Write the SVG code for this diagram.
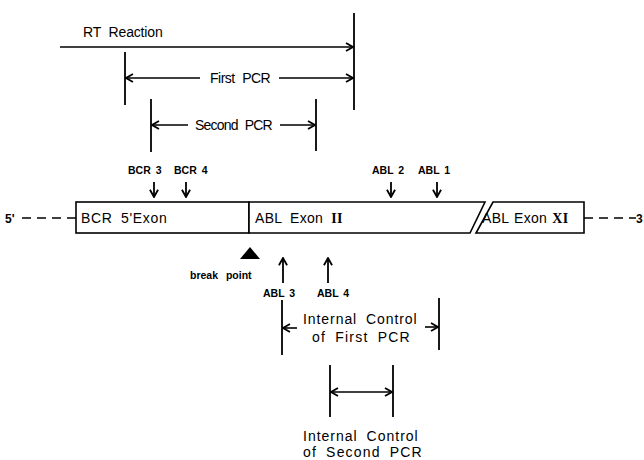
<svg xmlns="http://www.w3.org/2000/svg" width="644" height="460" viewBox="0 0 644 460">
<defs>
<marker id="ah" viewBox="0 0 10 10" refX="9" refY="5" markerWidth="10" markerHeight="10" markerUnits="userSpaceOnUse" orient="auto-start-reverse">
<path d="M2,1 L9,5 L2,9" fill="none" stroke="#000" stroke-width="1.8"/>
</marker>
<marker id="ph" viewBox="0 0 10 10" refX="9" refY="5" markerWidth="9" markerHeight="10" markerUnits="userSpaceOnUse" orient="auto">
<path d="M1,0.5 L9,5 L1,9.5" fill="none" stroke="#000" stroke-width="2"/>
</marker>
</defs>
<style>
text{font-family:"Liberation Sans",Arial,sans-serif;fill:#000}
.lbl{font-size:14px;letter-spacing:0.3px;word-spacing:4px}
.sm{font-size:10.5px;font-weight:bold;word-spacing:2px}
.rn{font-family:"Liberation Serif","Times New Roman",serif;font-weight:bold}
.tk{stroke:#000;stroke-width:1.8;fill:none}
.ar{stroke:#000;stroke-width:1.6;fill:none;marker-end:url(#ah)}
.da{stroke:#000;stroke-width:1.5;fill:none;marker-start:url(#ah);marker-end:url(#ah)}
.pr{stroke:#000;stroke-width:1.8;fill:none;marker-end:url(#ph)}
.dash{stroke:#000;stroke-width:1.6;stroke-dasharray:9,6;fill:none}
.box{stroke:#000;stroke-width:1.6;fill:#fff}
</style>

<g id="connectors">
<line class="ar" x1="60" y1="47" x2="353" y2="47"/>
<line class="tk" x1="354" y1="13" x2="354" y2="110"/>
<line class="tk" x1="125" y1="52" x2="125" y2="105"/>
<line class="ar" x1="200" y1="78" x2="126" y2="78"/>
<line class="ar" x1="279" y1="78" x2="353" y2="78"/>
<line class="tk" x1="151" y1="99" x2="151" y2="152"/>
<line class="tk" x1="316" y1="99" x2="316" y2="151"/>
<line class="ar" x1="188" y1="125" x2="152" y2="125"/>
<line class="ar" x1="280" y1="125" x2="315" y2="125"/>
<line class="pr" x1="154" y1="182" x2="154" y2="197"/>
<line class="pr" x1="186" y1="182" x2="186" y2="197"/>
<line class="pr" x1="391" y1="182" x2="391" y2="197"/>
<line class="pr" x1="437" y1="182" x2="437" y2="197"/>
<line class="pr" x1="283" y1="283" x2="283" y2="258"/>
<line class="pr" x1="328" y1="283" x2="328" y2="258"/>
<line class="dash" x1="22" y1="218" x2="76" y2="218"/>
<line class="dash" x1="584" y1="218" x2="636" y2="218"/>
<line class="tk" x1="282" y1="300" x2="282" y2="355"/>
<line class="tk" x1="439" y1="298" x2="439" y2="350"/>
<line class="ar" x1="297" y1="328" x2="283" y2="328"/>
<line class="ar" x1="425" y1="327" x2="438" y2="327"/>
<line class="tk" x1="330" y1="365" x2="330" y2="417"/>
<line class="tk" x1="393" y1="365" x2="393" y2="417"/>
<line class="da" x1="331" y1="392" x2="392" y2="392"/>
</g>

<g id="bcr-exon">
<rect class="box" x="76" y="202" width="173" height="31"/>
<text class="lbl" x="81" y="223" textLength="86" lengthAdjust="spacing">BCR 5'Exon</text>
</g>
<g id="abl-exon-ii">
<path class="box" d="M249,202 L485,202 L470,233 L249,233 Z"/>
<text class="lbl" x="255" y="223">ABL Exon <tspan class="rn">II</tspan></text>
</g>
<g id="abl-exon-xi">
<path class="box" d="M493,202 L584,202 L584,233 L476,233 Z"/>
<text class="lbl" x="482" y="223" style="word-spacing:1px">ABL Exon <tspan class="rn">XI</tspan></text>
</g>
<g id="break-point">
<path d="M250,247 L260,259 L240,259 Z" fill="#000"/>
<text class="sm" x="190" y="279" style="word-spacing:5px">break point</text>
</g>

<g id="labels">
<text class="lbl" x="83" y="37" textLength="80" lengthAdjust="spacing">RT Reaction</text>
<text class="lbl" x="210" y="83" textLength="61" lengthAdjust="spacing">First PCR</text>
<text class="lbl" x="195" y="130" textLength="78" lengthAdjust="spacing">Second PCR</text>
<text class="sm" x="128" y="174">BCR 3</text>
<text class="sm" x="174" y="174">BCR 4</text>
<text class="sm" x="372" y="174">ABL 2</text>
<text class="sm" x="418" y="174">ABL 1</text>
<text class="sm" x="5" y="223" style="font-size:12px">5'</text>
<text class="sm" x="636" y="223" style="font-size:12px">3</text>
<text class="sm" x="263" y="297">ABL 3</text>
<text class="sm" x="317" y="297">ABL 4</text>
<text class="lbl" x="303" y="324" textLength="114" lengthAdjust="spacing">Internal Control</text>
<text class="lbl" x="312" y="342" textLength="98" lengthAdjust="spacing">of First PCR</text>
<text class="lbl" x="303" y="441" textLength="115" lengthAdjust="spacing">Internal Control</text>
<text class="lbl" x="303" y="457" textLength="119" lengthAdjust="spacing">of Second PCR</text>
</g>
</svg>
